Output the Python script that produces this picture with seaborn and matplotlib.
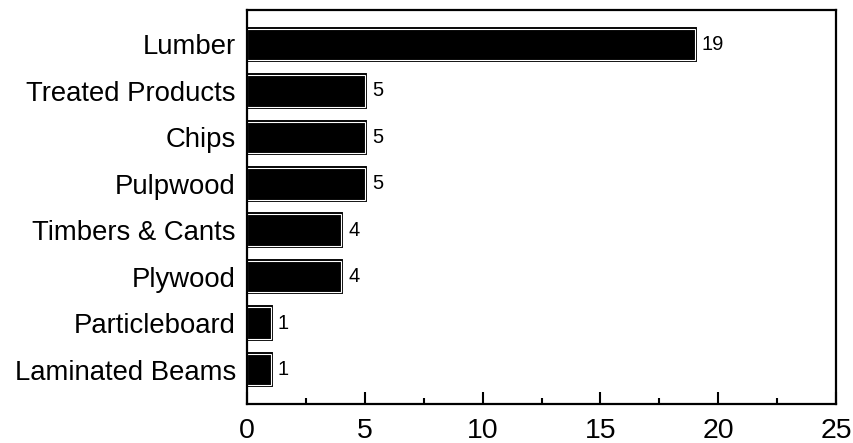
import matplotlib
matplotlib.use("Agg")
import matplotlib.pyplot as plt
import matplotlib.patheffects as pe
import seaborn as sns
import pandas as pd
from matplotlib.ticker import MultipleLocator

categories = ["Lumber", "Treated Products", "Chips", "Pulpwood",
              "Timbers & Cants", "Plywood", "Particleboard", "Laminated Beams"]
values = [19, 5, 5, 5, 4, 4, 1, 1]

df = pd.DataFrame({"category": categories, "value": values})

sns.set_theme(style="white")
plt.rcParams['font.family'] = ['Liberation Sans', 'DejaVu Sans']

fig = plt.figure(figsize=(8.54, 4.43), dpi=100)
ax = fig.add_axes([247/854, 1-404/443, (836-247)/854, (404-10)/443])

sns.barplot(data=df, x="value", y="category", order=categories, color="black",
            width=0.68, ax=ax, saturation=1)
for p in ax.patches:
    p.set_edgecolor("white")
    p.set_linewidth(0.8)
    p.set_path_effects([pe.Stroke(linewidth=2.8, foreground="black"), pe.Normal()])

ax.set_xlim(0, 25)
ax.set_ylim(7 + 0.74, -0.74)
ax.xaxis.set_major_locator(MultipleLocator(5))
ax.xaxis.set_minor_locator(MultipleLocator(2.5))
ax.tick_params(axis="x", which="major", direction="in", length=9, width=1.5,
               labelsize=20.5, pad=10, bottom=True, labelcolor="black", color="black")
ax.tick_params(axis="x", which="minor", direction="in", length=4, width=1.5,
               bottom=True, color="black")
ax.tick_params(axis="y", which="both", length=0, labelsize=19.8, pad=8, labelcolor="black")
ax.set_xlabel("")
ax.set_ylabel("")
for s in ax.spines.values():
    s.set_color("black")
    s.set_linewidth(1.6)

for i, v in enumerate(values):
    ax.text(v + 0.3, i, str(v), va="center", ha="left", fontsize=14.5, color="black")

fig.savefig("out.png", dpi=100)
